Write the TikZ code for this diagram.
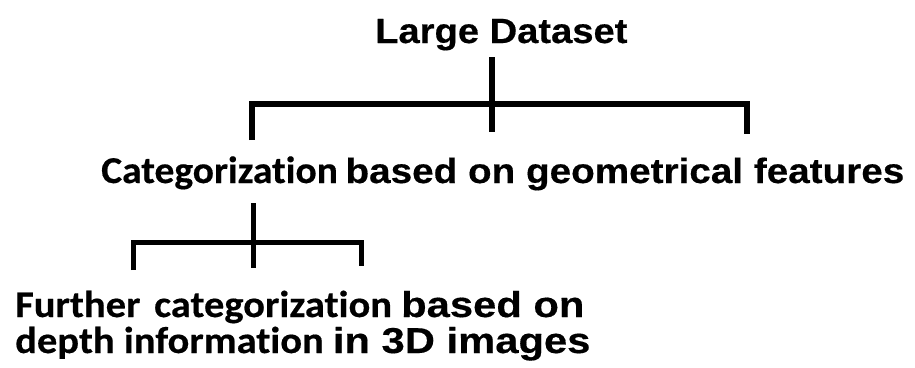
\documentclass[tikz,border=0pt]{standalone}
\usepackage{fontspec}
\setmainfont{Liberation Sans}
\newfontfamily\arroot[FakeStretch=1.09, FakeBold=0.4]{Liberation Sans}
\newfontfamily\armid[FakeStretch=1.105, FakeBold=0.4]{Liberation Sans}
\newfontfamily\arlow[FakeStretch=1.16, FakeBold=0.4]{Liberation Sans}
\newfontfamily\camid[Ligatures=NoCommon, RawFeature=-liga, FakeStretch=1.04, FakeBold=0.4]{Carlito}
\newfontfamily\calow[Ligatures=NoCommon, RawFeature=-liga, FakeStretch=1.08, FakeBold=0.4]{Carlito}
\tikzset{
  x=1pt, y=-1pt,
  bracket/.style={line width=5.5pt, line cap=butt, line join=miter},
  subbracket/.style={line width=5pt, line cap=butt, line join=miter},
  label/.style={inner sep=0pt, anchor=base west, text=black},
}
\newcommand{\froot}{\arroot\bfseries\fontsize{35}{42}\selectfont}
\newcommand{\fmidA}{\armid\bfseries\fontsize{35}{42}\selectfont}
\newcommand{\fmidC}{\camid\bfseries\fontsize{38}{42}\selectfont}
\newcommand{\flowA}{\arlow\bfseries\fontsize{36}{42}\selectfont}
\newcommand{\flowC}{\calow\bfseries\fontsize{37.5}{42}\selectfont}
\begin{document}
\begin{tikzpicture}
\useasboundingbox[fill=white] (0,0) rectangle (915,367);

% labels of the three levels
\node[label] (root) at (375,43) {\froot Large Dataset};
\node[label] (mid) at (101,183) {\fmidC Categorization\hspace{0.2em}\fmidA based on geometrical features};
\node[label] (leaf) at (15,317) {\flowC Further\hspace{0.12em} categorization \flowA based on};
\node[label] (leaf2) at (15,353) {\flowC depth information \flowA in 3D images};

% junction points of the upper bracket
\coordinate (rs) at (492,57);
\coordinate (rl) at (252,104);
\coordinate (rr) at (747,104);
\coordinate (rlend) at (252,140);
\coordinate (rrend) at (747,134);
\coordinate (rmend) at (492,132);

\draw[bracket] (rs) -- (rmend);
\draw[bracket] (rlend) -- (rl) -- (rr) -- (rrend);

% junction points of the lower bracket
\coordinate (ms) at (253,203);
\coordinate (ml) at (133,242);
\coordinate (mr) at (361,242);
\coordinate (mlend) at (133,270);
\coordinate (mrend) at (361,266);
\coordinate (mmend) at (253,268);

\draw[subbracket] (ms) -- (mmend);
\draw[subbracket] (mlend) -- (ml) -- (mr) -- (mrend);
\end{tikzpicture}
\end{document}
